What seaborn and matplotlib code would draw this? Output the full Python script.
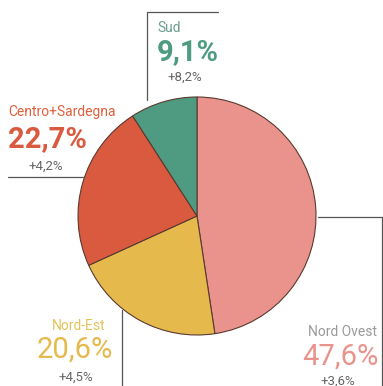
import matplotlib
matplotlib.use("Agg")
import matplotlib.pyplot as plt
import seaborn as sns

regions = ["Nord Ovest", "Nord-Est", "Centro+Sardegna", "Sud"]
shares = [47.6, 20.6, 22.7, 9.1]
share_labels = ["47,6%", "20,6%", "22,7%", "9,1%"]
change_labels = ["+3,6%", "+4,5%", "+4,2%", "+8,2%"]
colors = ["#EA928C", "#E6B94C", "#DA5A40", "#4E9B82"]
label_colors = ["#9A9A9A", "#E2C45A", "#E0603E", "#6C9E90"]

sns.set_style("white")
plt.rcParams['font.family'] = ['Roboto', 'DejaVu Sans']

W, H = 383, 386
fig = plt.figure(figsize=(W / 100, H / 100), dpi=100)
ax = fig.add_axes([0, 0, 1, 1])

def Y(y):
    return H - y

ax.pie(shares, colors=colors, startangle=90, counterclock=False,
       center=(197, Y(216)), radius=119,
       wedgeprops=dict(edgecolor="#5a3a30", linewidth=0.8))
ax.set_xlim(0, W)
ax.set_ylim(0, H)
ax.set_aspect("equal")
ax.axis("off")

lc = "#555555"
lw = 0.9
# Sud bracket
ax.plot([147, 147, 218], [Y(100), Y(12), Y(12)], color=lc, lw=lw)
# Centro line
ax.plot([8, 84], [Y(177), Y(177)], color=lc, lw=lw)
# Nord Ovest bracket
ax.plot([318, 383], [Y(217), Y(217)], color=lc, lw=lw)
ax.plot([382, 382], [Y(217), Y(386)], color=lc, lw=lw)
# Nord Est line
ax.plot([122, 122], [Y(310), Y(386)], color=lc, lw=lw)

# (x, y, ha) for label, pct, change
blocks = {
    0: [(343, 332, "center"), (340, 357, "center"), (338, 381, "center")],
    1: [(79, 326, "center"), (75, 350, "center"), (76, 377, "center")],
    2: [(8, 112, "left"), (8, 139, "left"), (46, 166, "center")],
    3: [(157, 28, "left"), (157, 52, "left"), (185, 77, "center")],
}
weights = ["normal", "normal", "bold", "bold"]
for i in range(4):
    b = blocks[i]
    ax.text(b[0][0], Y(b[0][1]), regions[i], color=label_colors[i],
            fontsize=10, ha=b[0][2], va="center")
    ax.text(b[1][0], Y(b[1][1]), share_labels[i], color=colors[i],
            fontsize=21, fontweight=weights[i], ha=b[1][2], va="center")
    ax.text(b[2][0], Y(b[2][1]), change_labels[i], color="#666666",
            fontsize=9.5, ha=b[2][2], va="center")

fig.savefig("out.png", dpi=100)
